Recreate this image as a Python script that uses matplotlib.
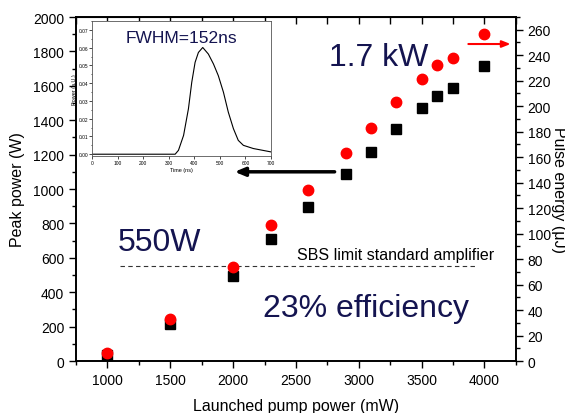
import matplotlib
matplotlib.use("Agg")
import matplotlib.pyplot as plt
from matplotlib.ticker import MultipleLocator

plt.rcParams['font.family'] = ['Liberation Sans', 'DejaVu Sans']

# launched pump power (mW)
pump = [1000, 1500, 2000, 2300, 2600, 2900, 3100, 3300, 3500, 3625, 3750, 4000]
# peak power (W), black squares
peak = [35, 215, 494, 709, 895, 1087, 1215, 1349, 1471, 1541, 1587, 1715]
# pulse energy (uJ), red circles
energy = [6, 33, 74, 107, 134, 163, 183, 203, 221, 232, 238, 257]

# inset pulse shape
t_ns = [0, 100, 200, 300, 325, 338, 358, 377, 390, 403, 416, 433, 455, 475,
        494, 514, 533, 553, 572, 592, 631, 700]
pulse = [0.0, 0.0, 0.0, 0.0, 0.0, 0.0022, 0.0106, 0.0256, 0.0405, 0.0517,
         0.0573, 0.0601, 0.0564, 0.0508, 0.0442, 0.0349, 0.0237, 0.0144,
         0.0078, 0.005, 0.0032, 0.0013]

sbs_limit = 550
navy = '#141450'

fig = plt.figure(figsize=(5.65, 4.14), dpi=100)
ax = fig.add_axes([0.1345, 0.1256, 0.7785, 0.8309])
ax2 = ax.twinx()

ax.plot(pump, peak, 's', color='black', ms=6.5, zorder=3)
ax2.plot(pump, energy, 'o', color='red', ms=7.5, zorder=3)

ax.set_xlim(750, 4250)
ax.set_ylim(0, 2000)
ax2.set_ylim(0, 270)

ax.xaxis.set_major_locator(MultipleLocator(500))
ax.xaxis.set_minor_locator(MultipleLocator(250))
ax.yaxis.set_major_locator(MultipleLocator(200))
ax.yaxis.set_minor_locator(MultipleLocator(100))
ax2.yaxis.set_major_locator(MultipleLocator(20))
ax2.yaxis.set_minor_locator(MultipleLocator(10))

ax.tick_params(axis='both', which='both', direction='out', labelsize=10, width=1)
ax.tick_params(which='major', length=5)
ax.tick_params(which='minor', length=3)
ax.tick_params(axis='x', top=False)
ax2.tick_params(axis='y', which='both', direction='out', labelsize=10, width=1)
ax2.tick_params(which='major', length=5)
ax2.tick_params(which='minor', length=3)

top = ax.secondary_xaxis('top')
top.xaxis.set_major_locator(MultipleLocator(250))
top.tick_params(direction='in', length=5, labeltop=False, width=1)

for a in (ax, ax2):
    for s in a.spines.values():
        s.set_linewidth(1.2)

ax.set_xlabel('Launched pump power (mW)', fontsize=11.5, labelpad=8)
ax.set_ylabel('Peak power (W)', fontsize=11.5, labelpad=6)
ax2.set_ylabel('Pulse energy (\u03bcJ)', fontsize=11.5, rotation=-90, labelpad=11)

# SBS limit line and texts
ax.hlines(sbs_limit, 1100, 3940, colors='#333333', linestyles=(0, (4, 3)), lw=0.8)
ax.text(3290, 622, 'SBS limit standard amplifier', fontsize=11.5, ha='center', va='center')
ax.text(1080, 690, '550W', fontsize=23, color=navy, ha='left', va='center')
ax.text(2240, 310, '23% efficiency', fontsize=23, color=navy, ha='left', va='center')
ax.text(2760, 1765, '1.7 kW', fontsize=23, color=navy, ha='left', va='center')

# arrows indicating axes
ax.annotate('', xy=(1990, 1100), xytext=(2830, 1100),
            arrowprops=dict(arrowstyle='-|>,head_length=0.6,head_width=0.25',
                            color='black', lw=2.5))
ax.annotate('', xy=(4230, 1843), xytext=(3850, 1843),
            arrowprops=dict(arrowstyle='-|>,head_length=0.5,head_width=0.2',
                            color='red', lw=1.5), annotation_clip=False)

# inset
ins = fig.add_axes([0.163, 0.6208, 0.3166, 0.326])
ins.plot(t_ns, pulse, color='black', lw=0.8)
ins.set_xlim(0, 700)
ins.set_ylim(-0.001, 0.075)
ins.xaxis.set_major_locator(MultipleLocator(100))
ins.yaxis.set_major_locator(MultipleLocator(0.01))
ins.yaxis.set_minor_locator(MultipleLocator(0.005))
ins.yaxis.set_major_formatter(plt.FormatStrFormatter('%.2f'))
ins.tick_params(labelsize=3.5, length=2, width=0.5, pad=1)
ins.tick_params(which='minor', length=1, width=0.5)
ins.set_xlabel('Time (ns)', fontsize=4, labelpad=1)
ins.set_ylabel('Power (a.U.)', fontsize=4, labelpad=1)
for s in ins.spines.values():
    s.set_linewidth(0.6)
    s.set_color('#555555')
ins.text(0.5, 0.88, 'FWHM=152ns', transform=ins.transAxes, fontsize=12.5,
         color=navy, ha='center', va='center')

fig.savefig('out.png', dpi=100)
